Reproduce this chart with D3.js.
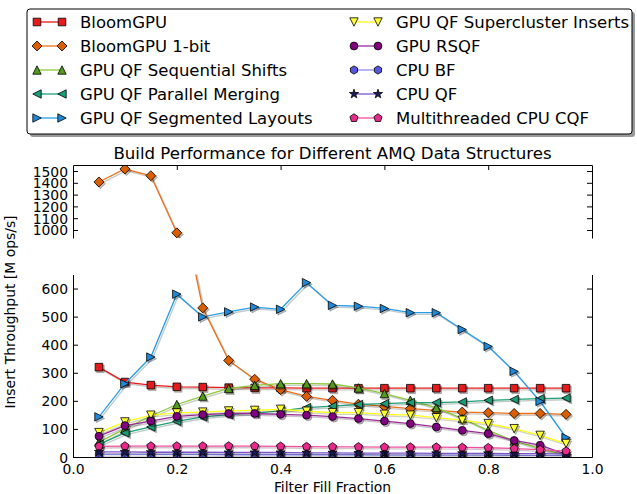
<!DOCTYPE html>
<html>
<head>
<meta charset="utf-8">
<script src="https://cdn.jsdelivr.net/npm/d3@7/dist/d3.min.js"></script>
<style>
  html, body { margin: 0; padding: 0; background: #fff; }
  svg { display: block; font-family: "DejaVu Sans", sans-serif; }
</style>
</head>
<body>
<svg id="chart" width="637" height="494"></svg>
<script>
// Filter fill fraction (x) and insert throughput in M ops/s for each structure
const fillFraction = [0.05, 0.10, 0.15, 0.20, 0.25, 0.30, 0.35, 0.40, 0.45, 0.50,
                      0.55, 0.60, 0.65, 0.70, 0.75, 0.80, 0.85, 0.90, 0.95];
const bloomGPU          = [320, 267, 256, 250, 249, 247, 246, 246, 245, 245, 245, 245, 245, 245, 245, 245, 245, 245, 245];
const bloomGPU1bit      = [1407, 1517, 1460, 976, 531, 344, 277, 240, 216, 202, 188, 180, 172, 166, 160, 158, 155, 155, 152];
const qfSequential      = [53, 100, 146, 187, 217, 244, 255, 261, 261, 260, 246, 226, 202, 176, 137, 95, 57, 30, 6];
const qfParallelMerging = [45, 86, 107, 127, 143, 151, 156, 164, 176, 181, 187, 190, 194, 194, 196, 202, 205, 208, 210];
const qfSegmented       = [143, 261, 356, 580, 499, 517, 534, 526, 621, 540, 537, 529, 514, 514, 454, 394, 305, 198, 69];
const qfSupercluster    = [87, 125, 149, 157, 160, 164, 166, 170, 163, 158, 158, 152, 149, 140, 131, 119, 101, 77, 48];
const gpuRSQF           = [74, 112, 128, 145, 151, 155, 155, 152, 149, 144, 137, 128, 119, 107, 95, 83, 59, 42, 9];
const cpuBF             = [9, 9, 9, 9, 9, 8, 8, 8, 8, 8, 8, 7, 7, 7, 7, 7, 6, 6, 6];
const cpuQF             = [18, 18, 17, 17, 17, 16, 16, 16, 15, 15, 14, 14, 14, 13, 13, 13, 12, 12, 11];
const cpuCQF            = [38, 39, 39, 39, 39, 39, 39, 38, 37, 36, 36, 35, 35, 35, 34, 33, 30, 26, 21];

const seriesNames = ["BloomGPU", "BloomGPU 1-bit", "GPU QF Sequential Shifts", "GPU QF Parallel Merging",
                     "GPU QF Segmented Layouts", "GPU QF Supercluster Inserts", "GPU RSQF", "CPU BF",
                     "CPU QF", "Multithreaded CPU CQF"];
const seriesValues = [bloomGPU, bloomGPU1bit, qfSequential, qfParallelMerging, qfSegmented,
                      qfSupercluster, gpuRSQF, cpuBF, cpuQF, cpuCQF];
const lineColors = ["#e41a1c", "#e8711c", "#8cc63e", "#1f9e77", "#2b9de6", "#ffff1a", "#9a2a9a", "#8c8cf0", "#7a55c8", "#f0509f"];
const faceColors = ["#e41a1c", "#d95f02", "#559a1c", "#1b9e77", "#1f88d8", "#ffff33", "#800080", "#5555dd", "#1c1c5c", "#e7298a"];
const markerKinds = ["square", "diamond", "triUp", "triLeft", "triRight", "triDown", "circle", "hexagon", "star", "pentagon"];

const xTicks = [0.0, 0.2, 0.4, 0.6, 0.8, 1.0];
const yTicksLow = [0, 100, 200, 300, 400, 500, 600];
const yTicksHigh = [1000, 1100, 1200, 1300, 1400, 1500];

const svg = d3.select("#chart");

// Layout of the two stacked panels (broken y axis)
const L = 73, R = 592;
const topPanel = { y0: 165, y1: 238 };
const lowPanel = { y0: 274.5, y1: 457 };

const x = d3.scaleLinear().domain([0, 1]).range([L, R]);
const yHigh = d3.scaleLinear().domain([932, 1551]).range([topPanel.y1, topPanel.y0]);
const yLow = d3.scaleLinear().domain([0, 650]).range([lowPanel.y1, lowPanel.y0]);

// Marker shapes
function poly(n, r, rot) {
  const pts = [];
  for (let i = 0; i < n; i++) {
    const a = rot + i * 2 * Math.PI / n;
    pts.push([r * Math.sin(a), -r * Math.cos(a)]);
  }
  return "M" + pts.map(p => p[0].toFixed(2) + "," + p[1].toFixed(2)).join("L") + "Z";
}
function star(r) {
  const pts = [];
  for (let i = 0; i < 10; i++) {
    const rr = i % 2 === 0 ? r : r * 0.382;
    const a = i * Math.PI / 5;
    pts.push([rr * Math.sin(a), -rr * Math.cos(a)]);
  }
  return "M" + pts.map(p => p[0].toFixed(2) + "," + p[1].toFixed(2)).join("L") + "Z";
}
function markerPath(kind) {
  const t = 4.2;
  switch (kind) {
    case "square": return "M-3.8,-3.8h7.6v7.6h-7.6Z";
    case "diamond": return "M0,-5L5,0L0,5L-5,0Z";
    case "triUp": return `M0,${-t}L${t},${t}L${-t},${t}Z`;
    case "triDown": return `M0,${t}L${t},${-t}L${-t},${-t}Z`;
    case "triLeft": return `M${-t},0L${t},${-t}L${t},${t}Z`;
    case "triRight": return `M${t},0L${-t},${-t}L${-t},${t}Z`;
    case "circle": return d3.symbol(d3.symbolCircle, Math.PI * 3.9 * 3.9)();
    case "hexagon": return poly(6, 4.1, 0);
    case "pentagon": return poly(5, 4.3, 0);
    case "star": return star(4.8);
  }
}
function darker(c) {
  const k = d3.rgb(c);
  return d3.rgb(k.r * 0.3, k.g * 0.3, k.b * 0.3).formatHex();
}

// Clip regions for both panels
const defs = svg.append("defs");
defs.append("clipPath").attr("id", "clipHigh").append("rect")
  .attr("x", L).attr("y", topPanel.y0).attr("width", R - L).attr("height", topPanel.y1 - topPanel.y0);
defs.append("clipPath").attr("id", "clipLow").append("rect")
  .attr("x", L).attr("y", lowPanel.y0).attr("width", R - L).attr("height", lowPanel.y1 - lowPanel.y0);

const shadowDx = 1.5, shadowDy = 1.7;

function drawSeries(panel, y, clipId) {
  const g = svg.append("g").attr("clip-path", `url(#${clipId})`);
  seriesValues.forEach((vals, i) => {
    const pts = vals.map((v, j) => [fillFraction[j], v]);
    const line = d3.line().x(d => x(d[0])).y(d => y(d[1]));
    const sg = g.append("g");
    // line shadow
    sg.append("path").attr("d", line(pts))
      .attr("transform", `translate(${shadowDx},${shadowDy})`)
      .attr("fill", "none").attr("stroke", darker(lineColors[i])).attr("stroke-opacity", 0.25)
      .attr("stroke-width", 1.4);
    sg.append("path").attr("d", line(pts))
      .attr("fill", "none").attr("stroke", lineColors[i]).attr("stroke-width", 1.3);
    const mp = markerPath(markerKinds[i]);
    // marker shadows
    sg.selectAll("path.ms").data(pts).join("path").attr("class", "ms")
      .attr("d", mp)
      .attr("transform", d => `translate(${x(d[0]) + shadowDx},${y(d[1]) + shadowDy})`)
      .attr("fill", darker(faceColors[i])).attr("fill-opacity", 0.3)
      .attr("stroke", "#000").attr("stroke-opacity", 0.25).attr("stroke-width", 0.8);
    sg.selectAll("path.mk").data(pts).join("path").attr("class", "mk")
      .attr("d", mp)
      .attr("transform", d => `translate(${x(d[0])},${y(d[1])})`)
      .attr("fill", faceColors[i]).attr("stroke", "#000").attr("stroke-width", 0.8);
  });
}

drawSeries(topPanel, yHigh, "clipHigh");
drawSeries(lowPanel, yLow, "clipLow");

// Axes: inward ticks on every side, spines open at the break
const tickLen = 5;
const tickFont = 13.9;
const intFmt = d3.format("d");

// top panel
const gTopLeft = svg.append("g").attr("transform", `translate(${L},0)`)
  .call(d3.axisLeft(yHigh).tickValues(yTicksHigh).tickFormat(intFmt).tickSizeInner(-tickLen).tickSizeOuter(0).tickPadding(5));
const gTopRight = svg.append("g").attr("transform", `translate(${R},0)`)
  .call(d3.axisRight(yHigh).tickValues(yTicksHigh).tickSizeInner(-tickLen).tickSizeOuter(0).tickFormat(""));
const gTopTop = svg.append("g").attr("transform", `translate(0,${topPanel.y0})`)
  .call(d3.axisTop(x).tickValues(xTicks).tickSizeInner(-tickLen).tickSizeOuter(0).tickFormat(""));

// lower panel
const gLowLeft = svg.append("g").attr("transform", `translate(${L},0)`)
  .call(d3.axisLeft(yLow).tickValues(yTicksLow).tickFormat(intFmt).tickSizeInner(-tickLen).tickSizeOuter(0).tickPadding(5));
const gLowRight = svg.append("g").attr("transform", `translate(${R},0)`)
  .call(d3.axisRight(yLow).tickValues(yTicksLow).tickSizeInner(-tickLen).tickSizeOuter(0).tickFormat(""));
const gLowBottom = svg.append("g").attr("transform", `translate(0,${lowPanel.y1})`)
  .call(d3.axisBottom(x).tickValues(xTicks).tickFormat(d3.format(".1f")).tickSizeInner(-tickLen).tickSizeOuter(0).tickPadding(5));

[gTopLeft, gTopRight, gTopTop, gLowLeft, gLowRight, gLowBottom].forEach(g => {
  g.selectAll(".domain").attr("stroke", "#000").attr("stroke-width", 1);
  g.selectAll(".tick line").attr("stroke", "#000").attr("stroke-width", 1);
  g.selectAll(".tick text").attr("fill", "#000").attr("font-size", tickFont)
    .attr("font-family", "DejaVu Sans, sans-serif");
});
gLowBottom.selectAll(".tick text").attr("dy", "0.85em");
// remove the x-ticks sitting on the corners
gTopTop.selectAll(".tick").filter(d => d === 0 || d === 1).remove();
gLowBottom.selectAll(".tick line").filter(d => d === 0 || d === 1).remove();
gTopLeft.selectAll(".tick text").attr("dy", "0.36em");
gLowLeft.selectAll(".tick text").attr("dy", "0.36em");

// Titles and axis labels
svg.append("text").attr("x", 332.5).attr("y", 159).attr("text-anchor", "middle")
  .attr("font-size", 16.6).attr("fill", "#000")
  .text("Build Performance for Different AMQ Data Structures");
svg.append("text").attr("x", 332.5).attr("y", 492).attr("text-anchor", "middle")
  .attr("font-size", 13.9).attr("fill", "#000").text("Filter Fill Fraction");
svg.append("text").attr("transform", "translate(15,312) rotate(-90)").attr("text-anchor", "middle")
  .attr("font-size", 13.9).attr("fill", "#000").text("Insert Throughput [M ops/s]");

// Legend
const leg = svg.append("g");
const lbx = 27, lby = 9, lbw = 605, lbh = 125;
leg.append("rect").attr("x", lbx + 3).attr("y", lby + 3).attr("width", lbw).attr("height", lbh)
  .attr("rx", 3).attr("fill", "#555").attr("fill-opacity", 0.6);
leg.append("rect").attr("x", lbx).attr("y", lby).attr("width", lbw).attr("height", lbh)
  .attr("rx", 3).attr("fill", "#fff").attr("stroke", "#000").attr("stroke-width", 1);
const rowY = [22, 46, 70, 94, 118];
const colX = [{ m0: 37, m1: 62, t: 80 }, { m0: 354, m1: 378, t: 396 }];
seriesNames.forEach((name, i) => {
  const c = colX[Math.floor(i / 5)];
  const yy = rowY[i % 5];
  const item = leg.append("g");
  item.append("line").attr("x1", c.m0).attr("x2", c.m1).attr("y1", yy).attr("y2", yy)
    .attr("stroke", lineColors[i]).attr("stroke-width", 1.3);
  [c.m0, c.m1].forEach(mx => {
    item.append("path").attr("d", markerPath(markerKinds[i]))
      .attr("transform", `translate(${mx},${yy})`)
      .attr("fill", faceColors[i]).attr("stroke", "#000").attr("stroke-width", 0.8);
  });
  item.append("text").attr("x", c.t).attr("y", yy).attr("dy", "0.36em")
    .attr("font-size", 16.5).attr("fill", "#000").text(name);
});
</script>
</body>
</html>
